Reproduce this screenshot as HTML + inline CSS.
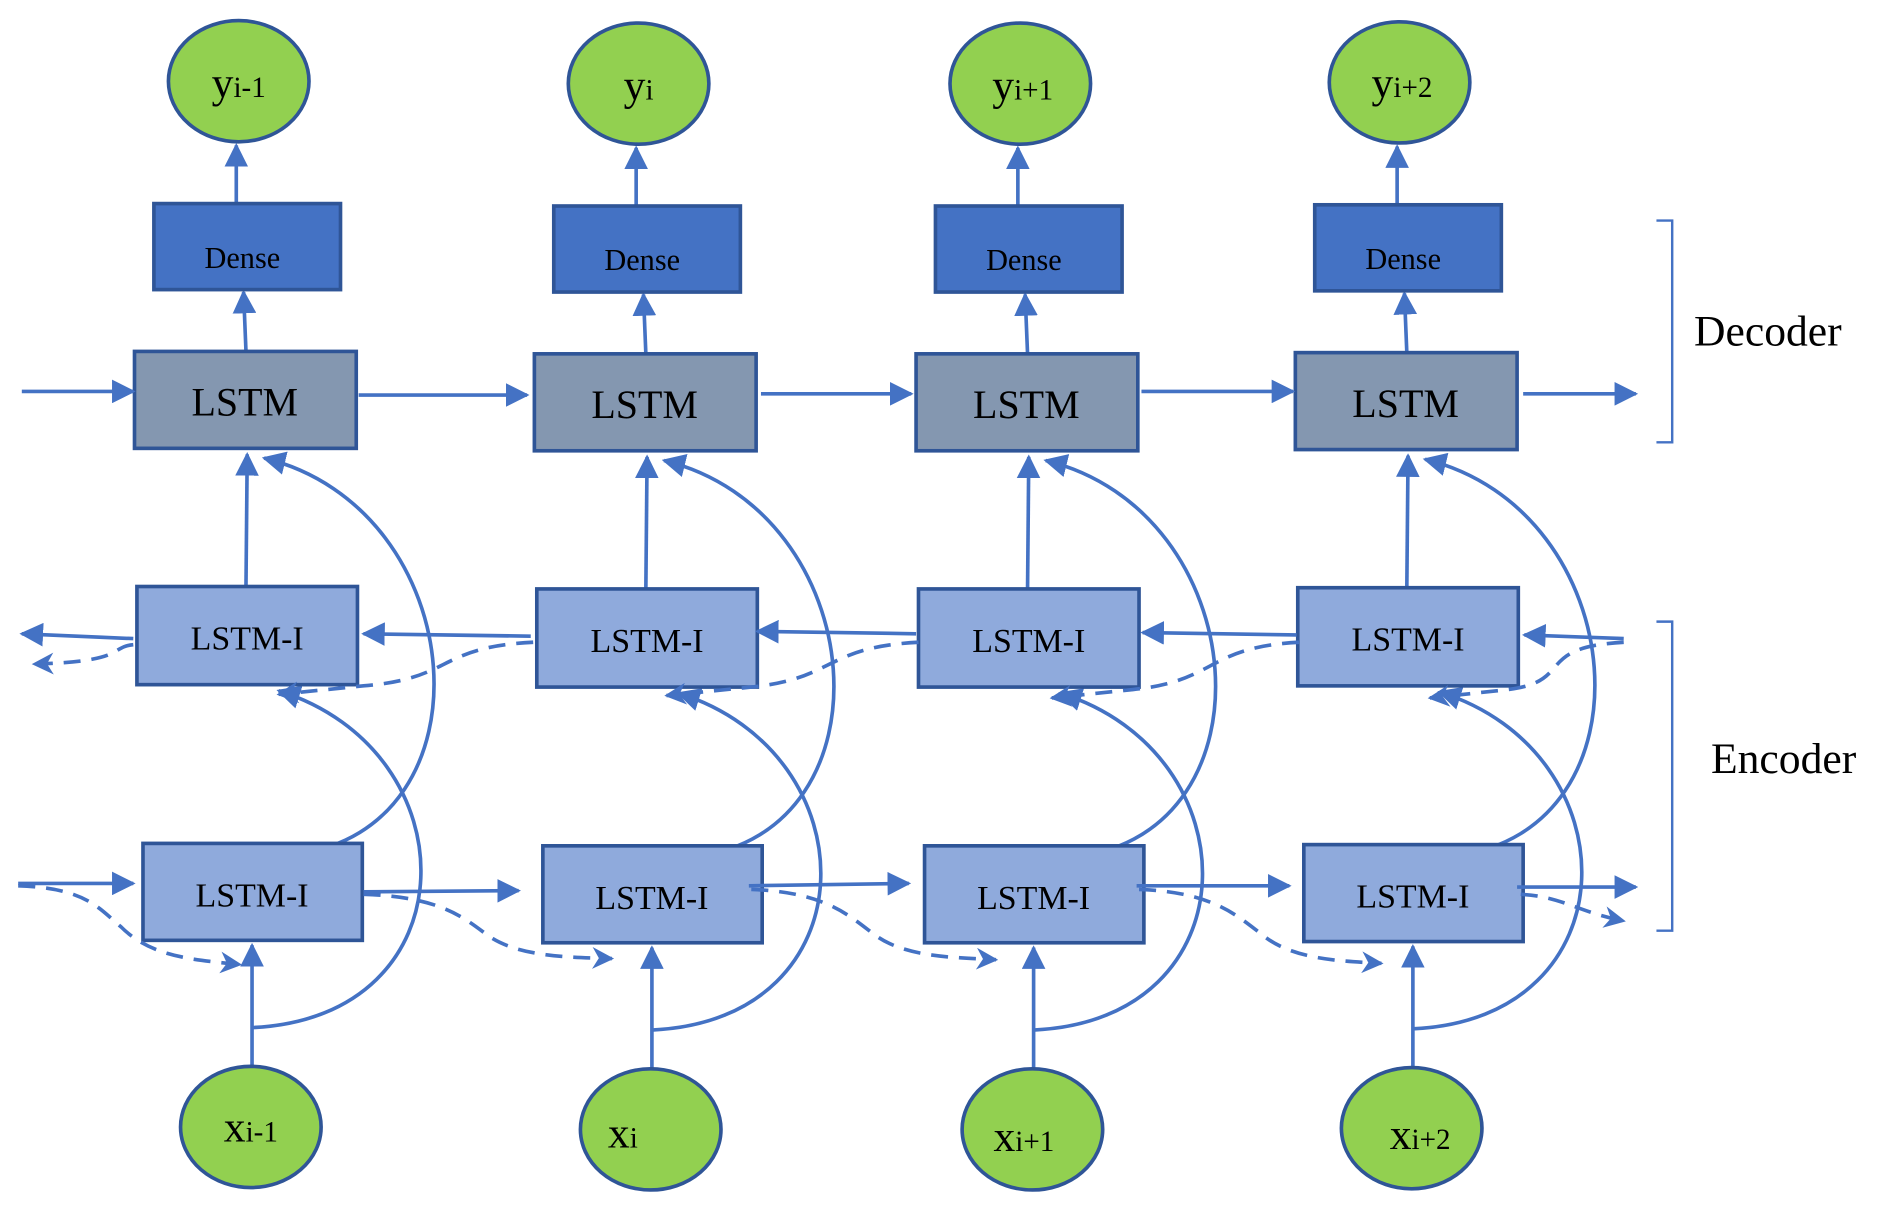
<!DOCTYPE html>
<html><head><meta charset="utf-8"><style>html,body{margin:0;padding:0;background:#fff}svg{display:block}</style></head>
<body>
<svg width="1900" height="1213" viewBox="0 0 1568 1001" preserveAspectRatio="none" xmlns="http://www.w3.org/2000/svg" font-family="Liberation Serif, serif">
<defs>
<marker id="a" viewBox="0 0 10 10" refX="9" refY="5" markerWidth="6.5" markerHeight="6.5" orient="auto" markerUnits="strokeWidth"><path d="M0,0 L10,5 L0,10 z" fill="#4472C4"/></marker>
<marker id="d" viewBox="0 0 10 10" refX="9" refY="5" markerWidth="6" markerHeight="6" orient="auto" markerUnits="strokeWidth"><path d="M0,0 L10,5 L0,10 L3,5 z" fill="#4472C4"/></marker>
<g id="col">
<path d="M195,168 L195,120" stroke="#4472C4" stroke-width="3" fill="none" marker-end="url(#a)"/>
<path d="M203,290 L201,241" stroke="#4472C4" stroke-width="3" fill="none" marker-end="url(#a)"/>
<path d="M203,484 L204,375" stroke="#4472C4" stroke-width="3" fill="none" marker-end="url(#a)"/>
<path d="M208,880 L208,780" stroke="#4472C4" stroke-width="3" fill="none" marker-end="url(#a)"/>
<path d="M243,705 C410,685 390,420 218,378" stroke="#4472C4" stroke-width="3" fill="none" marker-end="url(#a)"/>
<path d="M208,848 C390,840 390,620 230,570" stroke="#4472C4" stroke-width="3" fill="none" marker-end="url(#a)"/>
<ellipse cx="197" cy="67" rx="58" ry="50" fill="#92D050" stroke="#2F5597" stroke-width="3"/>
<rect x="127" y="168" width="154" height="71" fill="#4472C4" stroke="#2F5597" stroke-width="3"/>
<rect x="111" y="290" width="183" height="80" fill="#8497B0" stroke="#2F5597" stroke-width="3"/>
<rect x="113" y="484" width="182" height="81" fill="#8FAADC" stroke="#2F5597" stroke-width="3"/>
<rect x="118" y="696" width="181" height="80" fill="#8FAADC" stroke="#2F5597" stroke-width="3"/>
<ellipse cx="207" cy="930" rx="58" ry="50" fill="#92D050" stroke="#2F5597" stroke-width="3"/>
<text x="200" y="221" font-size="25" text-anchor="middle">Dense</text>
<text x="202" y="343" font-size="33" text-anchor="middle">LSTM</text>
<text x="204" y="536" font-size="28" text-anchor="middle">LSTM-I</text>
<text x="208" y="748" font-size="28" text-anchor="middle">LSTM-I</text>
</g>
</defs>

<use href="#col"/>
<use href="#col" transform="translate(330,2)"/>
<use href="#col" transform="translate(645,2)"/>
<use href="#col" transform="translate(958,1)"/>

<g font-size="36" text-anchor="middle">
<text x="197" y="80">y<tspan font-size="24">i-1</tspan></text>
<text x="527" y="82">y<tspan font-size="24">i</tspan></text>
<text x="844" y="82">y<tspan font-size="24">i+1</tspan></text>
<text x="1157" y="80">y<tspan font-size="24">i+2</tspan></text>
<text x="207" y="942">x<tspan font-size="24">i-1</tspan></text>
<text x="514" y="947">x<tspan font-size="24">i</tspan></text>
<text x="845" y="950">x<tspan font-size="24">i+1</tspan></text>
<text x="1172" y="948">x<tspan font-size="24">i+2</tspan></text>
</g>

<g stroke="#4472C4" stroke-width="3" fill="none" marker-end="url(#a)">
<path d="M18,323 L110,323"/><path d="M296,326 L435,326"/><path d="M628,325 L752,325"/><path d="M942,323 L1067,323"/><path d="M1257,325 L1350,325"/>
<path d="M110,527 L18,523"/><path d="M438,525 L300,523"/><path d="M756,523 L625,521"/><path d="M1070,524 L943,522"/><path d="M1340,527 L1258,524"/>
<path d="M15,729 L110,729"/><path d="M300,736 L428,735"/><path d="M618,731 L750,729"/><path d="M938,731 L1064,731"/><path d="M1252,732 L1350,732"/>
</g>
<g stroke="#4472C4" stroke-width="3" fill="none" stroke-dasharray="14,9" marker-end="url(#d)">
<path d="M110,532 C90,534 105,546 28,548"/>
<path d="M440,530 C360,534 375,560 300,566 L230,573"/>
<path d="M758,530 C680,534 690,560 620,567 L550,574"/>
<path d="M1072,530 C995,534 1005,562 935,569 L868,576"/>
<path d="M1340,530 C1265,534 1300,562 1245,569 L1180,576"/>
<path d="M15,731 C70,733 80,748 100,765 C125,790 160,792 198,796"/>
<path d="M300,738 C360,740 380,755 400,770 C425,790 470,790 505,791"/>
<path d="M620,734 C680,736 700,755 720,770 C745,790 785,790 822,792"/>
<path d="M940,734 C1000,736 1020,755 1040,770 C1065,792 1105,793 1140,795"/>
<path d="M1255,738 C1290,740 1300,752 1340,760"/>
</g>

<g stroke="#4472C4" stroke-width="2" fill="none">
<path d="M1367,182 L1380,182 L1380,365 L1367,365"/>
<path d="M1367,513 L1380,513 L1380,768 L1367,768"/>
</g>
<text x="1398" y="285" font-size="36">Decoder</text>
<text x="1412" y="638" font-size="36">Encoder</text>
</svg>
</body></html>
